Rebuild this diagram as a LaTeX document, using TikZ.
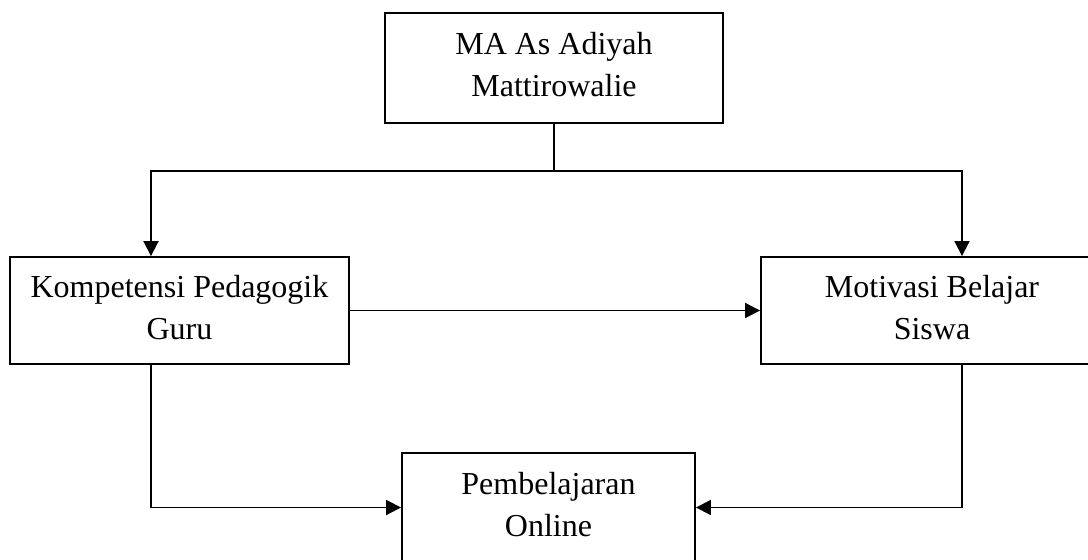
\documentclass[tikz,border=0pt]{standalone}
\usepackage{fontspec}
\setmainfont{Liberation Serif}
\usetikzlibrary{arrows.meta,positioning}

\begin{document}
\begin{tikzpicture}[x=1pt, y=-1pt, line width=1.9pt, arr/.style={-{Triangle[length=15pt,width=15pt]}}]
\tikzstyle{box}=[draw, rectangle, align=center, inner sep=0pt, font=\fontsize{32}{42}\selectfont, execute at end node={\rule[-7pt]{0pt}{7pt}}]
\clip (0,0) rectangle (1088,560);
\node[box, minimum width=338pt, minimum height=110pt] (MA) at (554,68) {MA As Adiyah\\Mattirowalie};
\node[box, minimum width=339pt, minimum height=107pt] (KPG) at (179.5,310.5) {Kompetensi Pedagogik\\Guru};
\node[box, minimum width=342pt, minimum height=107pt] (MBS) at (932,310.5) {Motivasi Belajar\\Siswa};
\node[box, minimum width=293pt, minimum height=109pt] (PO) at (548.5,507.5) {Pembelajaran\\Online};
\coordinate (lft) at (151,171);
\coordinate (rgt) at (962,171);
% cabang dari atas
\foreach \c/\n in {lft/KPG,rgt/MBS}{\draw[arr] (MA.south) -- (MA.south |- \c) -| (\c |- \n.north);}
\draw[arr] (KPG) -- (MBS);
% ke bawah
\foreach \c/\n/\s in {lft/KPG/west,rgt/MBS/east}{\draw[arr] (\c |- \n.south) |- (PO.\s);}
\end{tikzpicture}
\end{document}
